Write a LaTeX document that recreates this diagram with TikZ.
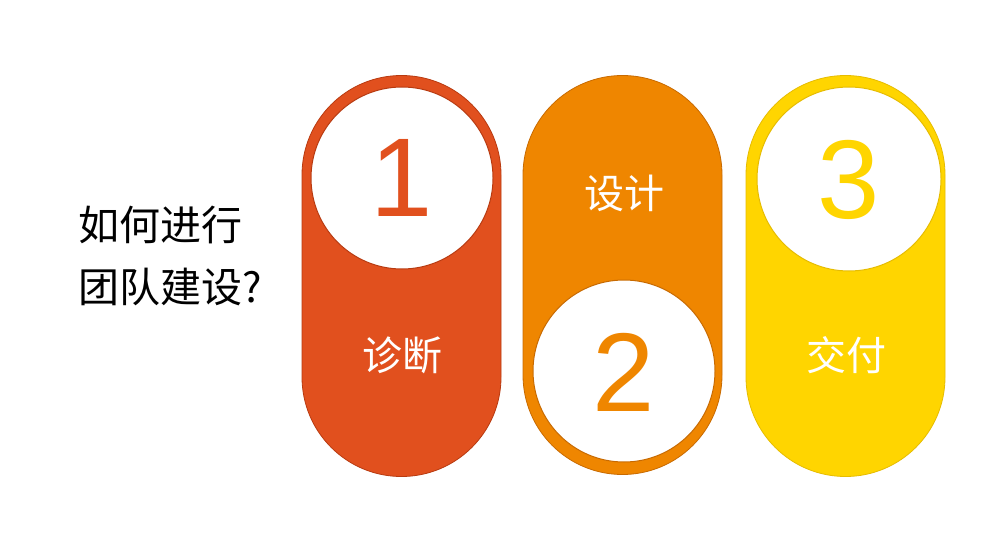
\documentclass[tikz,border=0pt]{standalone}
\usepackage{fontspec}
\setmainfont{Liberation Sans}
\newfontfamily\cjk{Noto Sans CJK SC}
\definecolor{cA}{HTML}{E1501E}
\definecolor{cAd}{HTML}{B83A10}
\definecolor{cB}{HTML}{EF8600}
\definecolor{cBd}{HTML}{C86A00}
\definecolor{cC}{HTML}{FFD500}
\definecolor{cCd}{HTML}{E6BC00}
\tikzset{
  pillshape/.style={line width=0.8pt},
  hole/.style={fill=white, line width=1pt},
  bignum/.style={font=\fontsize{112}{112}\selectfont, inner sep=0pt},
  label/.style={font=\cjk\fontsize{40}{40}\selectfont, text=white, inner sep=0pt},
  question/.style={font=\cjk\fontsize{41}{52}\selectfont, text=black, align=left, inner sep=0pt, anchor=west}
}
\begin{document}
\begin{tikzpicture}[x=1pt,y=-1pt]
\useasboundingbox[fill=white] (0,0) rectangle (1000,556);
% pills
\filldraw[pillshape, fill=cA, draw=cAd]
  (302,175) arc[start angle=180, end angle=360, radius=99.5] -- (501,377) arc[start angle=0, end angle=180, radius=99.5] -- cycle;
\filldraw[pillshape, fill=cB, draw=cBd]
  (523,175) arc[start angle=180, end angle=360, radius=99.5] -- (722,375) arc[start angle=0, end angle=180, radius=99.5] -- cycle;
\filldraw[pillshape, fill=cC, draw=cCd]
  (746,175) arc[start angle=180, end angle=360, radius=99.5] -- (945,377) arc[start angle=0, end angle=180, radius=99.5] -- cycle;
% holes
\filldraw[hole, draw=cAd] (402,178) circle[radius=91];
\filldraw[hole, draw=cBd] (624,371) circle[radius=91];
\filldraw[hole, draw=cCd] (849,179) circle[radius=92];
% numbers
\node[bignum, text=cA] (n1) at (402,178) {1};
\node[bignum, text=cB] (n2) at (624,372) {2};
\node[bignum, text=cC] (n3) at (849,180) {3};
% labels
\node[label] (l1) at (402,355) {诊断};
\node[label] (l2) at (624,193) {设计};
\node[label] (l3) at (846,355) {交付};
% question
\node[question] (q1) at (78,225) {如何进行};
\node[question] (q2) at (78,287) {团队建设?};
\end{tikzpicture}
\end{document}
